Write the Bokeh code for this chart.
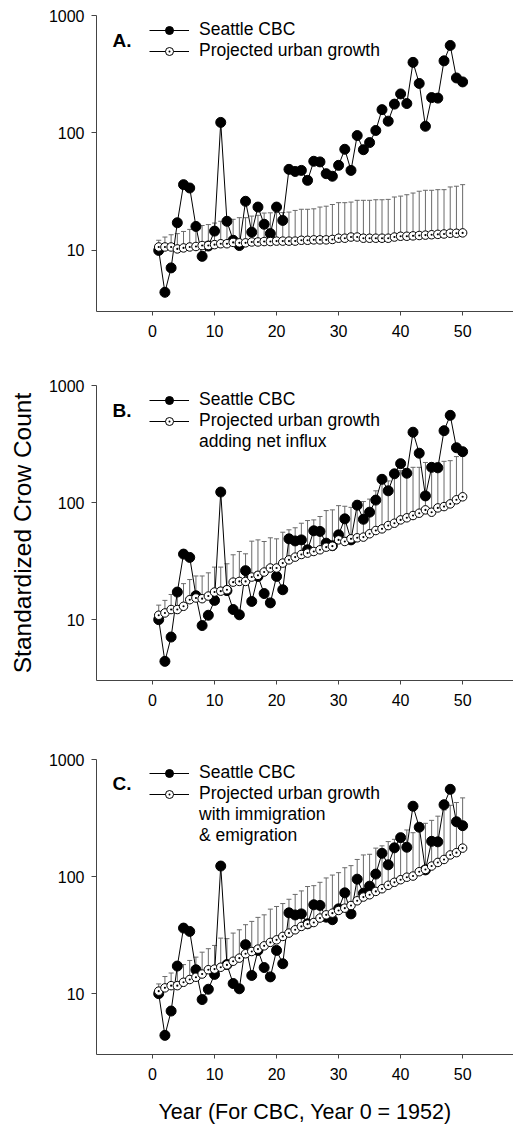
from bokeh.plotting import figure
from bokeh.models import (ColumnDataSource, Range1d, FixedTicker, PrintfTickFormatter,
                          Whisker, TeeHead, Legend, LegendItem, Label)
from bokeh.layouts import column
from bokeh.embed import file_html
from bokeh.resources import INLINE

years = list(range(1, 51))

cbc = [10.0, 4.4, 7.1, 17.2, 36.3, 34.0, 16.0, 8.9, 10.9, 14.6,
       123, 17.7, 12.2, 11.0, 26.2, 14.3, 23.4, 16.7, 13.9, 23.4,
       18.0, 49, 47, 48, 39.5, 57.4, 56.7, 45, 42.8, 53,
       72.6, 48, 95, 72, 82.8, 105, 158, 126, 176, 215,
       178, 399, 264, 114, 200, 198, 411, 556, 294, 272]

proj_a = [10.7, 10.7, 10.7, 10.3, 10.5, 10.7, 10.8, 11.0, 11.0, 11.2,
          11.4, 11.4, 11.7, 11.6, 11.6, 11.8, 11.8, 11.9, 11.9, 12.0,
          12.0, 12.0, 12.0, 12.2, 12.2, 12.3, 12.3, 12.3, 12.4, 12.7,
          12.7, 13.0, 13.0, 12.7, 12.7, 12.7, 12.7, 12.7, 13.0, 13.2,
          13.2, 13.3, 13.4, 13.5, 13.6, 13.7, 13.8, 14.0, 14.0, 14.1]
upper_a = [12.2, 13.0, 13.6, 13.9, 14.5, 15.1, 15.8, 16.3, 16.6, 17.1,
           17.7, 18.0, 18.4, 19.0, 19.0, 19.6, 19.9, 20.8, 20.9, 21.0,
           21.0, 21.2, 21.9, 22.4, 22.4, 22.6, 23.4, 23.8, 24.6, 25.5,
           25.5, 25.8, 26.7, 26.7, 26.7, 27.0, 27.0, 27.2, 28.5, 29.0,
           29.8, 30.8, 31.9, 32.5, 32.5, 32.9, 32.9, 34.7, 35.2, 36.3]

proj_b = [10.9, 11.4, 12.2, 12.2, 13.0, 14.8, 15.3, 15.1, 15.9, 17.2,
          17.5, 18.0, 20.9, 21.2, 21.2, 23.1, 23.9, 25.5, 27.6, 27.6,
          30.4, 32.4, 34.2, 36.0, 37.0, 38.2, 39.5, 41.6, 42.4, 48.0,
          46.5, 49.0, 50.0, 50.7, 54.1, 57.7, 59.6, 63.6, 66.6, 71.1,
          74.1, 77.5, 81.1, 86.6, 82.7, 90.0, 92.4, 97.4, 105.6, 112]
upper_b = [13.3, 14.6, 16.4, 17.8, 20.3, 22.0, 23.6, 23.6, 25.1, 28.1,
           28.1, 30.0, 35.8, 38.2, 36.5, 46.8, 48.0, 46.5, 50.0, 49.0,
           55.8, 58.5, 60.9, 66.6, 70.2, 71.1, 76.0, 85.4, 86.6, 94.1,
           93.0, 91.0, 104, 102, 107, 126, 153, 153, 181, 187,
           193, 200, 200, 220, 210, 220, 225, 228, 247, 251]

proj_c = [10.5, 11.2, 11.7, 11.7, 12.5, 13.2, 13.8, 14.7, 16.0, 16.2,
          16.8, 17.6, 18.9, 20.1, 21.9, 22.9, 24.0, 25.6, 27.4, 28.8,
          30.8, 32.9, 35.1, 37.5, 39.2, 40.5, 44.2, 47.1, 48.7, 51.3,
          53.7, 56.6, 62.1, 66.8, 69.9, 74.7, 78.7, 84.2, 89.3, 94.0,
          98.7, 101, 110, 115, 123, 132, 140, 153, 160, 175]
upper_c = [12.1, 14.0, 15.0, 16.0, 17.7, 19.2, 20.5, 22.6, 24.2, 25.8,
           29.8, 29.5, 32.9, 35.1, 38.8, 41.4, 44.8, 47.1, 52.7, 55.5,
           58.8, 64.0, 70.4, 75.4, 82.2, 83.6, 89.3, 97.3, 103, 108,
           119, 124, 140, 153, 155, 175, 183, 199, 208, 227,
           250, 237, 285, 285, 302, 328, 370, 406, 429, 470]

x_ticks = [0, 10, 20, 30, 40, 50]
y_ticks = [10, 100, 1000]

FONT = "Liberation Sans"


def make_panel(letter, proj, upper, proj_lines, height, bottom, ylabel=None, xlabel=None,
               legend_y=250):
    frame_h = height - 15 - bottom
    p = figure(width=513, height=height, y_axis_type="log",
               x_range=Range1d(-9.03, 58.2), y_range=Range1d(3.02, 1000),
               output_backend="svg", toolbar_location=None,
               min_border_left=96, min_border_right=0, min_border_top=15,
               min_border_bottom=bottom)
    p.outline_line_color = None
    p.grid.visible = False

    src = ColumnDataSource(dict(year=years, cbc=cbc, proj=proj, upper=upper))

    w = Whisker(base="year", lower="proj", upper="upper", source=src,
                line_color="#6a6a6a", line_width=1, lower_head=None,
                upper_head=TeeHead(size=5, line_color="#6a6a6a", line_width=1),
                level="underlay")
    p.add_layout(w)

    l1 = p.line("year", "cbc", source=src, line_color="black", line_width=1)
    s1 = p.scatter("year", "cbc", source=src, size=10, marker="circle",
                   fill_color="black", line_color="black")
    l2 = p.line("year", "proj", source=src, line_color="black", line_width=1)
    s2 = p.scatter("year", "proj", source=src, size=8.5, marker="circle_dot",
                   fill_color="white", line_color="black", line_width=1)
    # invisible renderer for continuation lines of the legend text
    blank = p.scatter(x=[], y=[], size=0, fill_alpha=0, line_alpha=0)

    items = [LegendItem(label="Seattle CBC", renderers=[l1, s1]),
             LegendItem(label=proj_lines[0], renderers=[l2, s2])]
    for extra in proj_lines[1:]:
        items.append(LegendItem(label=extra, renderers=[blank]))

    legend = Legend(items=items,
                    location=(53, legend_y), padding=0, margin=0, spacing=0,
                    glyph_width=40, glyph_height=20, label_height=20,
                    label_standoff=10, label_text_font=FONT,
                    label_text_font_size="17.5px", label_text_color="black",
                    background_fill_alpha=0, border_line_alpha=0)
    p.add_layout(legend)

    p.add_layout(Label(x=16, y=frame_h - 25, x_units="screen", y_units="screen",
                       text=letter, text_font=FONT, text_font_size="19px",
                       text_font_style="bold", text_baseline="middle",
                       text_color="black"))

    p.xaxis.ticker = FixedTicker(ticks=x_ticks, minor_ticks=[])
    p.yaxis.ticker = FixedTicker(ticks=y_ticks, minor_ticks=[])
    p.yaxis.formatter = PrintfTickFormatter(format="%d")
    for ax in (p.xaxis, p.yaxis):
        ax.axis_line_color = "#444444"
        ax.major_tick_line_color = "#444444"
        ax.major_tick_in = 0
        ax.minor_tick_line_color = None
        ax.major_label_text_font = FONT
        ax.major_label_text_font_size = "16px"
        ax.major_label_text_color = "black"
        ax.axis_label_text_font = FONT
        ax.axis_label_text_font_style = "normal"
        ax.axis_label_text_color = "black"
    p.yaxis.major_tick_out = 5
    p.yaxis.major_label_standoff = 7
    p.xaxis.major_tick_out = 4
    p.xaxis.major_label_standoff = 9
    if ylabel:
        p.yaxis.axis_label = ylabel
        p.yaxis.axis_label_text_font_size = "24.5px"
        p.yaxis.axis_label_standoff = 10
    if xlabel:
        p.xaxis.axis_label = xlabel
        p.xaxis.axis_label_text_font_size = "21.5px"
        p.xaxis.axis_label_standoff = 17
    return p


pa = make_panel("A.", proj_a, upper_a, ["Projected urban growth"], 370, 59, legend_y=250)
pb = make_panel("B.", proj_b, upper_b, ["Projected urban growth", "adding net influx"], 374, 64,
                ylabel="Standardized Crow Count", legend_y=228)
pc = make_panel("C.", proj_c, upper_c,
                ["Projected urban growth", "with immigration", "& emigration"],
                382, 71, xlabel="Year (For CBC, Year 0 = 1952)", legend_y=208)

layout = column(pa, pb, pc, spacing=0)
open("out.html", "w").write(file_html(layout, INLINE))
